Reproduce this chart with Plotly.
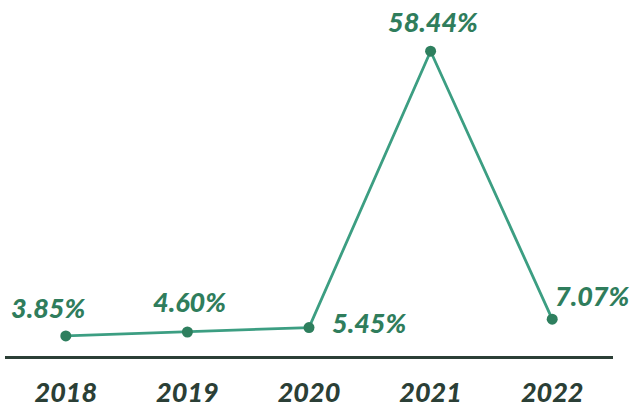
import plotly.graph_objects as go

years = ["2018", "2019", "2020", "2021", "2022"]
growth = [3.85, 4.60, 5.45, 58.44, 7.07]
labels = ["3.85%", "4.60%", "5.45%", "58.44%", "7.07%"]
label_dx = [-18, 2, 60, 2, 40]
label_dy = [28, 31, 5, 30, 24]

LINE = "#3c9e82"
MARK = "#2e7f5e"
TXT = "#2f7d5c"
DARK = "#2b3f36"
FONT = "Lato"

fig = go.Figure()
fig.add_trace(go.Scatter(
    x=years, y=growth, mode="lines+markers",
    line=dict(color=LINE, width=2.8),
    marker=dict(color=MARK, size=11),
    hoverinfo="skip",
))

for i, (y, t, dx, dy) in enumerate(zip(growth, labels, label_dx, label_dy)):
    fig.add_annotation(
        x=i, y=y, xref="x", yref="y", text=t, showarrow=False,
        xshift=dx, yshift=dy,
        font=dict(family=FONT, size=27, color=TXT, weight=900, style="italic"),
    )

fig.update_layout(
    width=632, height=407,
    margin=dict(l=5, r=19, t=17, b=51, autoexpand=False),
    paper_bgcolor="white", plot_bgcolor="white",
    showlegend=False,
    xaxis=dict(
        type="category", range=[-0.5, 4.5], automargin=False,
        showgrid=False, zeroline=False,
        showline=True, linecolor=DARK, linewidth=2.5,
        tickvals=years, ticktext=years,
        tickfont=dict(family=FONT, size=27, color=DARK, weight=900, style="italic"),
        ticks="", ticklabelstandoff=11,
    ),
    yaxis=dict(
        range=[0, 65], visible=False, showgrid=False, zeroline=False, automargin=False,
    ),
)

fig.write_html("out.html", config={"displayModeBar": False},
               post_script="document.body.style.margin='0';")
